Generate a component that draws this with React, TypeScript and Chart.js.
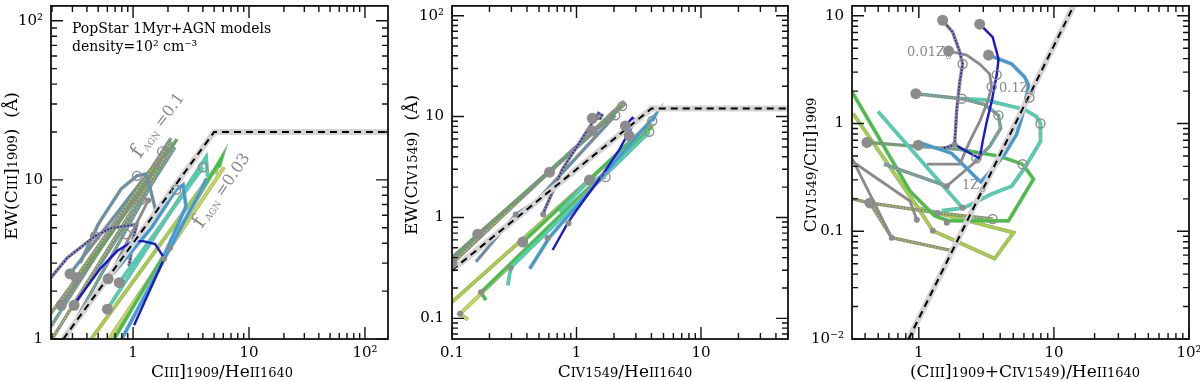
import React, { useEffect, useRef } from "react";
import { Chart, registerables } from "chart.js";

Chart.register(...registerables);

type Pt = [number, number];
type Run = [string, number, number?];
type Kind = "solid" | "dotted" | "gray";

const FONT = '"DejaVu Serif", "Liberation Serif", serif';
const BLUE = "#1818d6";
const SKY = "#2c9fe4";
const TEAL = "#38dcb4";
const GREEN = "#32cc32";
const LIME = "#a6d62e";
const YGREEN = "#c6de3e";
const GRAY = "#8a8a8a";
const DOT = "#8c8c8c";

// ---------------- Panel 1: EW(CIII]) vs CIII]/HeII ----------------
const p1XTicks = [1, 10, 100];
const p1XLabels = ["1", "10", "10²"];
const p1YTicks = [1, 10, 100];
const p1YLabels = ["1", "10", "10²"];
const p1Limit: Pt[] = [[0.25, 1], [5, 20], [200, 20]];
const p1D1: Pt[] = [[0.196, 1.2], [2.12, 18.3]];
const p1D2: Pt[] = [[0.196, 1.45], [2.26, 17.0]];
const p1D3: Pt[] = [[0.24, 1.63], [2.39, 18.0]];
const p1D4: Pt[] = [[0.31, 1.63], [2.3, 16]];
const p1D5: Pt[] = [[0.286, 2.57], [2.0, 16.0]];
const p1D6: Pt[] = [[0.323, 2.43], [2.12, 17.5]];
const p1D7: Pt[] = [[0.26, 1], [1.8, 12.5]];
const p1D8: Pt[] = [[0.2, 1], [1.9, 14]];
const p1GrayArch: Pt[] = [[0.35, 3.0], [0.5, 5.25], [0.79, 8.79], [1.08, 10.6], [1.29, 10.9], [1.43, 8.42], [1.6, 6.0]];
const p1BlueDotted: Pt[] = [[0.196, 2.43], [0.27, 3.23], [0.47, 4.43], [0.634, 4.96], [1.08, 5.25], [1.0, 4.24], [0.94, 3.1], [0.92, 2.88]];
const p1Gray1: Pt[] = [[0.61, 2.39], [1.35, 7.41]];
const p1Lime: Pt[] = [[0.435, 1], [5.4, 12.4], [5.1, 10.9]];
const p1Yellow: Pt[] = [[0.62, 1], [6.1, 12.0]];
const p1Green: Pt[] = [[0.686, 1], [5.85, 13.9], [5.5, 12]];
const p1Teal: Pt[] = [[0.6, 1.54], [4.26, 13.9], [4.4, 10.5]];
const p1Teal2: Pt[] = [[0.76, 2.26], [4.0, 12.0]];
const p1SkyA: Pt[] = [[0.67, 2.57], [1.43, 4.96], [2.35, 8.67], [2.7, 9.3], [2.86, 6.8], [1.81, 3.23]];
const p1SkyB: Pt[] = [[0.8, 1], [3.78, 8.42], [4.3, 10.2]];
const p1BlueArch: Pt[] = [[0.329, 1.75], [0.52, 2.76], [0.728, 3.57], [1.0, 4.12], [1.22, 4.12], [1.55, 3.95], [1.81, 3.32], [1.85, 3.19], [1.02, 1.22]];
const p1Big: Pt[] = [[0.286, 2.57], [0.323, 2.43], [0.24, 1.63], [0.31, 1.63], [0.61, 2.39], [0.76, 2.26], [0.6, 1.54]];
const p1Small: Pt[] = [[1.35, 7.41], [1.85, 3.19], [2.08, 3.73]];
const p1Open: Pt[] = [[0.47, 4.43], [1.08, 10.6], [1.78, 15.1], [1.68, 12.6], [1.17, 7.5], [4.01, 12.0], [2.35, 8.67], [0.87, 4.55]];

// ---------------- Panel 2: EW(CIV) vs CIV/HeII ----------------
const p2XTicks = [0.1, 1, 10];
const p2XLabels = ["0.1", "1", "10"];
const p2YTicks = [0.1, 1, 10, 100];
const p2YLabels = ["0.1", "1", "10", "10²"];
const p2Limit: Pt[] = [[0.1, 0.3], [4, 12], [50, 12]];
const p2B1: Pt[] = [[0.1, 0.348], [2.42, 14.2]];
const p2B2: Pt[] = [[0.1, 0.37], [0.161, 0.683], [0.608, 2.81], [2.47, 13.5]];
const p2B3: Pt[] = [[0.1, 0.4], [2.33, 12.7]];
const p2B4: Pt[] = [[0.156, 0.364], [0.325, 1.07], [0.47, 1.43], [2.05, 10.3]];
const p2B5: Pt[] = [[0.535, 1.07], [0.679, 2.1], [0.77, 3.0], [1.5, 10.8], [1.6, 10.3], [1.55, 9.6], [1.34, 9.6]];
const p2S1: Pt[] = [[0.1, 0.145], [4.06, 8.5]];
const p2S2: Pt[] = [[0.134, 0.0966], [0.116, 0.111], [3.84, 7.06]];
const p2S3: Pt[] = [[0.187, 0.152], [0.171, 0.181], [4.06, 8.0]];
const p2S4: Pt[] = [[0.281, 0.212], [0.296, 0.318], [3.84, 7.06]];
const p2S5: Pt[] = [[0.421, 0.311], [0.608, 0.638], [4.29, 10.3], [4.06, 9.04]];
const p2S6: Pt[] = [[0.643, 0.476], [0.847, 0.874], [0.98, 1.14], [1.61, 2.63], [2.21, 4.71], [2.81, 8.08], [2.96, 9.25], [2.81, 9.7], [2.47, 8.08]];
const p2S7: Pt[] = [[0.37, 0.57], [3.9, 8.7]];
const p2S8: Pt[] = [[0.73, 1.14], [1.27, 2.35], [1.71, 2.51]];
const p2Big: Pt[] = [[0.1, 0.35], [0.161, 0.683], [0.37, 0.57], [0.608, 2.81], [1.27, 2.35], [1.34, 9.6], [1.34, 7.2], [2.47, 8.08], [2.65, 6.45]];
const p2Small: Pt[] = [[0.325, 1.07], [0.296, 0.318], [0.171, 0.181], [0.116, 0.111], [0.585, 0.624], [0.863, 0.874], [0.54, 1.07]];
const p2Open: Pt[] = [[2.33, 12.7], [2.05, 10.3], [4.06, 9.04], [3.84, 7.06], [1.71, 2.51]];

// ---------------- Panel 3: CIV/CIII] vs (CIII]+CIV)/HeII ----------------
const p3XTicks = [1, 10, 100];
const p3XLabels = ["1", "10", "10²"];
const p3YTicks = [0.01, 0.1, 1, 10];
const p3YLabels = ["10⁻²", "0.1", "1", "10"];
const p3Limit: Pt[] = [[0.84, 0.01], [14.5, 13.5]];
const p3BlueDotted: Pt[] = [[1.5, 9.09], [1.78, 7.05], [2.01, 4.61], [2.11, 3.57], [2.01, 2.44], [1.91, 1.37], [1.84, 0.64], [1.61, 0.6], [1.48, 0.589]];
const p3Blue: Pt[] = [[2.82, 8.35], [3.52, 6.34], [3.89, 3.97], [3.77, 2.83], [3.46, 1.6], [3.18, 1.04], [2.97, 0.683], [2.82, 0.476]];
const p3BlueU: Pt[] = [[1.84, 0.64], [2.46, 0.518], [2.82, 0.476]];
const p3Gray: Pt[] = [[1.66, 4.71], [2.26, 4.32], [2.82, 3.57], [3.34, 2.89], [3.46, 2.19], [3.23, 1.6], [2.82, 1.04], [2.38, 0.683], [2.01, 0.419], [1.15, 0.419]];
const p3Sky: Pt[] = [[3.28, 4.32], [4.86, 3.57], [6.06, 2.71], [6.48, 2.29], [6.27, 1.74], [5.75, 1.11], [5.29, 0.792], [4.31, 0.518], [3.77, 0.419], [2.82, 0.28]];
const p3SkyU: Pt[] = [[1.05, 0.654], [1.75, 0.529], [2.82, 0.292]];
const p3TealDotted: Pt[] = [[0.95, 1.89], [2.08, 1.7], [3.07, 1.5], [3.89, 1.19], [4.03, 0.9], [3.34, 0.614], [2.59, 0.447]];
const p3Teal: Pt[] = [[2.08, 1.7], [3.07, 1.66], [6.06, 1.35], [7.43, 1.16], [7.95, 1.0], [7.95, 0.683], [6.06, 0.385], [4.86, 0.262], [3.46, 0.222], [2.15, 0.165], [1.48, 0.155]];
const p3Green: Pt[] = [[0.32, 1.97], [0.859, 0.236], [1.31, 0.139], [1.66, 0.125], [4.61, 0.125], [7.06, 0.305], [5.86, 0.419]];
const p3GreenDotted: Pt[] = [[0.413, 0.668], [0.966, 0.614], [2.01, 0.576]];
const p3GreenU: Pt[] = [[2.01, 0.576], [3.96, 0.497], [5.86, 0.419]];
const p3Lime: Pt[] = [[0.326, 1.24], [0.985, 0.165], [1.27, 0.101], [3.64, 0.0558], [5.02, 0.0969], [0.985, 0.165]];
const p3LimeDotted1: Pt[] = [[0.32, 0.2], [0.435, 0.183], [1.38, 0.148], [3.52, 0.13]];
const p3LimeDotted2: Pt[] = [[0.435, 0.183], [0.63, 0.087], [1.75, 0.066]];
const p3GrayLow: Pt[] = [[0.32, 0.476], [0.63, 0.087]];
const p3GrayLow2: Pt[] = [[0.32, 0.447], [0.859, 0.191], [0.966, 0.128]];
const p3TealDotted2: Pt[] = [[0.552, 0.419], [1.61, 0.262]];
const p3GrayU: Pt[] = [[1.61, 0.262], [2.82, 0.476]];
const p3Teal2: Pt[] = [[0.498, 1.29], [2.1, 0.165]];
const p3Big: Pt[] = [[1.5, 9.09], [2.82, 8.35], [1.66, 4.71], [3.28, 4.32], [0.95, 1.89], [0.413, 0.668], [0.99, 0.63], [0.435, 0.183]];
const p3Small: Pt[] = [[1.84, 0.64], [0.63, 0.087], [1.61, 0.262], [1.27, 0.101], [0.966, 0.128], [1.61, 0.12], [2.11, 0.165], [1.38, 0.148]];
const p3Open: Pt[] = [[2.11, 3.57], [3.77, 2.83], [3.46, 2.19], [6.59, 1.74], [3.89, 1.19], [7.95, 1.0], [5.86, 0.419], [2.08, 1.7], [2.67, 0.476], [3.52, 0.13]];

type Note = { runs: Run[]; x: number; y: number; angle: number; color: string; align: "left" | "center" };
type PanelSpec = {
  xMin: number; xMax: number; yMin: number; yMax: number;
  xTicks: number[]; xLabels: string[]; yTicks: number[]; yLabels: string[];
  tracks: [Pt[], string, Kind][];
  limit: Pt[]; big: Pt[]; small: Pt[]; open: Pt[];
  axisW: number; padRight: number;
  notes: Note[];
};

const BIG = 17;
const SM = 13;

const panels: PanelSpec[] = [
  {
    xMin: 0.196, xMax: 158, yMin: 1, yMax: 124,
    xTicks: p1XTicks, xLabels: p1XLabels, yTicks: p1YTicks, yLabels: p1YLabels,
    tracks: [
      [p1D1, TEAL, "dotted"], [p1D2, LIME, "dotted"], [p1D3, GREEN, "dotted"], [p1D4, TEAL, "dotted"],
      [p1D5, SKY, "dotted"], [p1D6, LIME, "dotted"], [p1D7, TEAL, "dotted"], [p1D8, LIME, "dotted"],
      [p1GrayArch, SKY, "dotted"], [p1BlueDotted, BLUE, "dotted"], [p1Gray1, GRAY, "gray"],
      [p1Lime, LIME, "solid"], [p1Yellow, YGREEN, "solid"], [p1Green, GREEN, "solid"], [p1Teal, TEAL, "solid"],
      [p1Teal2, TEAL, "solid"], [p1SkyA, SKY, "solid"], [p1SkyB, SKY, "solid"], [p1BlueArch, BLUE, "solid"],
    ],
    limit: p1Limit, big: p1Big, small: p1Small, open: p1Open,
    axisW: 51, padRight: 12,
    notes: [
      { runs: [["C", BIG], ["III", SM], ["]", BIG], ["1909", SM], ["/He", BIG], ["II", SM], ["1640", SM]], x: 222, y: 377, angle: 0, color: "#000", align: "center" },
      { runs: [["EW(C", BIG], ["III", SM], ["]", BIG], ["1909", SM], [")  (Å)", BIG]], x: 17, y: 166, angle: -Math.PI / 2, color: "#000", align: "center" },
      { runs: [["PopStar 1Myr+AGN models", 14]], x: 72, y: 33, angle: 0, color: "#000", align: "left" },
      { runs: [["density=10² cm⁻³", 14]], x: 72, y: 51, angle: 0, color: "#000", align: "left" },
      { runs: [["f", 21], [" AGN", 9, 2], [" =0.1", 16]], x: 140, y: 159, angle: -54 * Math.PI / 180, color: GRAY, align: "left" },
      { runs: [["f", 21], [" AGN", 9, 2], [" =0.03", 16]], x: 202, y: 229, angle: -56 * Math.PI / 180, color: GRAY, align: "left" },
    ],
  },
  {
    xMin: 0.1, xMax: 50, yMin: 0.0624, yMax: 125,
    xTicks: p2XTicks, xLabels: p2XLabels, yTicks: p2YTicks, yLabels: p2YLabels,
    tracks: [
      [p2B1, LIME, "dotted"], [p2B2, TEAL, "dotted"], [p2B3, GREEN, "dotted"], [p2B4, SKY, "dotted"], [p2B5, BLUE, "dotted"],
      [p2S1, LIME, "solid"], [p2S2, YGREEN, "solid"], [p2S3, GREEN, "solid"], [p2S4, TEAL, "solid"],
      [p2S7, GREEN, "solid"], [p2S8, TEAL, "solid"], [p2S5, SKY, "solid"], [p2S6, BLUE, "solid"],
    ],
    limit: p2Limit, big: p2Big, small: p2Small, open: p2Open,
    axisW: 52, padRight: 12,
    notes: [
      { runs: [["C", BIG], ["IV", SM], ["1549", SM], ["/He", BIG], ["II", SM], ["1640", SM]], x: 225, y: 377, angle: 0, color: "#000", align: "center" },
      { runs: [["EW(C", BIG], ["IV", SM], ["1549", SM], [")  (Å)", BIG]], x: 17, y: 165, angle: -Math.PI / 2, color: "#000", align: "center" },
    ],
  },
  {
    xMin: 0.32, xMax: 100, yMin: 0.01, yMax: 12.35,
    xTicks: p3XTicks, xLabels: p3XLabels, yTicks: p3YTicks, yLabels: p3YLabels,
    tracks: [
      [p3Lime, LIME, "solid"], [p3LimeDotted1, LIME, "dotted"], [p3LimeDotted2, LIME, "dotted"], [p3GrayLow, GRAY, "gray"], [p3GrayLow2, GRAY, "gray"],
      [p3Green, GREEN, "solid"], [p3GreenDotted, GREEN, "dotted"], [p3GreenU, GREEN, "solid"],
      [p3Teal2, TEAL, "solid"], [p3TealDotted2, TEAL, "dotted"], [p3GrayU, GRAY, "gray"],
      [p3Teal, TEAL, "solid"], [p3TealDotted, TEAL, "dotted"],
      [p3SkyU, SKY, "solid"], [p3Sky, SKY, "solid"], [p3Gray, GRAY, "gray"],
      [p3BlueDotted, BLUE, "dotted"], [p3BlueU, BLUE, "solid"], [p3Blue, BLUE, "solid"],
    ],
    limit: p3Limit, big: p3Big, small: p3Small, open: p3Open,
    axisW: 52, padRight: 11,
    notes: [
      { runs: [["(C", BIG], ["III", SM], ["]", BIG], ["1909", SM], ["+C", BIG], ["IV", SM], ["1549", SM], [")/He", BIG], ["II", SM], ["1640", SM]], x: 225, y: 377, angle: 0, color: "#000", align: "center" },
      { runs: [["C", BIG], ["IV", SM], ["1549", SM], ["/C", BIG], ["III", SM], ["]", BIG], ["1909", SM]], x: 16, y: 165, angle: -Math.PI / 2, color: "#000", align: "center" },
      { runs: [["0.01Z", 13], ["⊙", 8, 3]], x: 107, y: 56, angle: 0, color: GRAY, align: "left" },
      { runs: [["0.1Z", 13], ["⊙", 8, 3]], x: 199, y: 92, angle: 0, color: GRAY, align: "left" },
      { runs: [["1Z", 13], ["⊙", 8, 3]], x: 162, y: 189, angle: 0, color: GRAY, align: "left" },
    ],
  },
];

function drawRuns(ctx: CanvasRenderingContext2D, n: Note) {
  ctx.save();
  ctx.translate(n.x, n.y);
  ctx.rotate(n.angle);
  ctx.fillStyle = n.color;
  ctx.textBaseline = "alphabetic";
  ctx.textAlign = "left";
  let w = 0;
  for (const [t, s] of n.runs) {
    ctx.font = `${s}px ${FONT}`;
    w += ctx.measureText(t).width;
  }
  let cx = n.align === "center" ? -w / 2 : 0;
  for (const [t, s, dy] of n.runs) {
    ctx.font = `${s}px ${FONT}`;
    ctx.fillText(t, cx, dy || 0);
    cx += ctx.measureText(t).width;
  }
  ctx.restore();
}

function logTicks(min: number, max: number): [number, boolean][] {
  const out: [number, boolean][] = [];
  for (let e = Math.floor(Math.log10(min)) - 1; e <= Math.ceil(Math.log10(max)); e++) {
    for (let m = 1; m <= 9; m++) {
      const v = m * Math.pow(10, e);
      if (v >= min * 0.999 && v <= max * 1.001) out.push([v, m === 1]);
    }
  }
  return out;
}

function decorPlugin(p: PanelSpec) {
  return {
    id: "decor",
    afterDraw(chart: any) {
      const ctx: CanvasRenderingContext2D = chart.ctx;
      const { left, right, top, bottom } = chart.chartArea;
      const sx = chart.scales.x;
      const sy = chart.scales.y;
      ctx.save();
      ctx.strokeStyle = "#111";
      ctx.lineWidth = 1.4;
      ctx.beginPath();
      for (const [v, maj] of logTicks(p.xMin, p.xMax)) {
        const px = sx.getPixelForValue(v);
        const L = maj ? 12 : 6;
        ctx.moveTo(px, bottom); ctx.lineTo(px, bottom - L);
        ctx.moveTo(px, top); ctx.lineTo(px, top + L);
      }
      for (const [v, maj] of logTicks(p.yMin, p.yMax)) {
        const py = sy.getPixelForValue(v);
        const L = maj ? 12 : 6;
        ctx.moveTo(left, py); ctx.lineTo(left + L, py);
        ctx.moveTo(right, py); ctx.lineTo(right - L, py);
      }
      ctx.stroke();
      ctx.lineWidth = 1.8;
      ctx.strokeRect(left, top, right - left, bottom - top);
      ctx.restore();
      for (const n of p.notes) drawRuns(ctx, n);
    },
  };
}

function lineDs(pts: Pt[], color: string, width: number, dash: number[] = []) {
  return {
    data: pts.map(([x, y]) => ({ x, y })),
    showLine: true,
    borderColor: color,
    borderWidth: width,
    borderDash: dash,
    pointRadius: 0,
    pointHoverRadius: 0,
    fill: false,
    tension: 0,
  };
}

function markerDs(pts: Pt[], radius: number, fill: string, stroke: string, bw: number) {
  return {
    data: pts.map(([x, y]) => ({ x, y })),
    showLine: false,
    pointRadius: radius,
    pointHoverRadius: radius,
    pointBackgroundColor: fill,
    pointBorderColor: stroke,
    pointBorderWidth: bw,
  };
}

function buildDatasets(p: PanelSpec) {
  const ds: any[] = [];
  for (const [pts, color, kind] of p.tracks) {
    if (kind === "dotted") {
      ds.push(lineDs(pts, GRAY, 3.4));
      ds.push(lineDs(pts, color, 1.6, [1.6, 1.8]));
    } else if (kind === "gray") {
      ds.push(lineDs(pts, GRAY, 2.8));
    } else {
      if (color !== BLUE) ds.push(lineDs(pts, "#a0a0a0", 3.8));
      ds.push(lineDs(pts, color, 2.4));
    }
  }
  ds.push(lineDs(p.limit, "#d4d4d4", 6));
  ds.push(lineDs(p.limit, "#000000", 2, [7, 5]));
  ds.push(markerDs(p.big, 5.5, DOT, DOT, 0));
  ds.push(markerDs(p.small, 3, DOT, DOT, 0));
  ds.push(markerDs(p.open, 4.5, "rgba(255,255,255,0)", DOT, 1.4));
  ds.forEach((d, i) => (d.order = ds.length - i));
  return ds;
}

function labelFor(ticks: number[], labels: string[]) {
  return (v: any) => {
    const i = ticks.findIndex((t) => Math.abs(Math.log10(t) - Math.log10(Number(v))) < 1e-6);
    return i >= 0 ? labels[i] : "";
  };
}

function makeConfig(p: PanelSpec): any {
  const tickFont = { family: FONT, size: 15 };
  const zeroPad = (s: any) => {
    s.paddingLeft = 0; s.paddingRight = 0; s.paddingTop = 0; s.paddingBottom = 0;
  };
  return {
    type: "scatter",
    data: { datasets: buildDatasets(p) },
    options: {
      animation: false,
      responsive: false,
      events: [],
      layout: { padding: { left: 0, right: p.padRight, top: 1, bottom: 0 } },
      plugins: { legend: { display: false }, tooltip: { enabled: false } },
      scales: {
        x: {
          type: "logarithmic", position: "bottom", min: p.xMin, max: p.xMax, bounds: "data",
          grid: { display: false, drawTicks: false }, border: { display: false },
          ticks: { autoSkip: false, maxRotation: 0, minRotation: 0, padding: 5, color: "#000", font: tickFont, callback: labelFor(p.xTicks, p.xLabels) },
          afterBuildTicks: (s: any) => { s.ticks = p.xTicks.map((v) => ({ value: v })); },
          afterFit: (s: any) => { s.height = 42; zeroPad(s); },
        },
        y: {
          type: "logarithmic", position: "left", min: p.yMin, max: p.yMax, bounds: "data",
          grid: { display: false, drawTicks: false }, border: { display: false },
          ticks: { autoSkip: false, padding: 8, color: "#000", font: tickFont, callback: labelFor(p.yTicks, p.yLabels) },
          afterBuildTicks: (s: any) => { s.ticks = p.yTicks.map((v) => ({ value: v })); },
          afterFit: (s: any) => { s.width = p.axisW; zeroPad(s); },
        },
      },
    },
    plugins: [decorPlugin(p)],
  };
}

export default function App() {
  const r0 = useRef<HTMLCanvasElement>(null);
  const r1 = useRef<HTMLCanvasElement>(null);
  const r2 = useRef<HTMLCanvasElement>(null);
  useEffect(() => {
    const refs = [r0, r1, r2];
    const charts = refs.map((r, i) => new Chart(r.current as HTMLCanvasElement, makeConfig(panels[i])));
    return () => charts.forEach((c) => c.destroy());
  }, []);
  const cs = (left: number): React.CSSProperties => ({ position: "absolute", left, top: 0, width: 400, height: 381, display: "block" });
  return (
    <div style={{ position: "fixed", left: 0, top: 0, width: 1200, height: 381, background: "#fff", overflow: "hidden" }}>
      <canvas ref={r0} width={400} height={381} style={cs(0)} />
      <canvas ref={r1} width={400} height={381} style={cs(400)} />
      <canvas ref={r2} width={400} height={381} style={cs(800)} />
    </div>
  );
}
